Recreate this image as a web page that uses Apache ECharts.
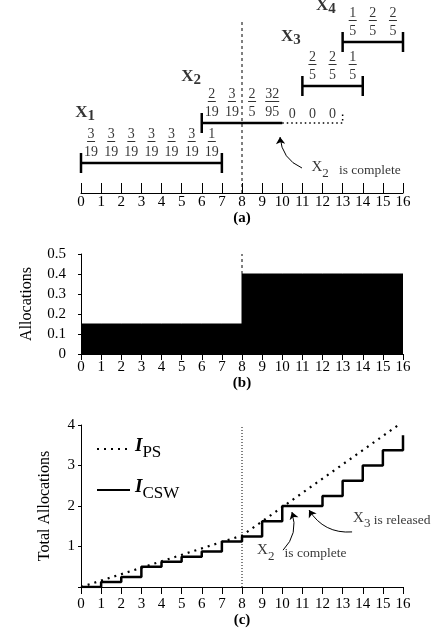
<!DOCTYPE html>
<html>
<head>
<meta charset="utf-8">
<script src="https://cdn.jsdelivr.net/npm/echarts@6/dist/echarts.min.js"></script>
<style>
  html, body { margin: 0; padding: 0; background: #fff; }
  #chart { width: 448px; height: 640px; }
</style>
</head>
<body>
<div id="chart"></div>
<script>
    var FONT = 'Liberation Serif';

    // (a) 任务的执行区间和每个时隙的份额
    var taskIds = ['1', '2', '3', '4'];
    var taskStart = [0, 6, 11, 13];
    var taskEnd = [7, 10, 14, 16];
    var taskShares = [
        ['3/19', '3/19', '3/19', '3/19', '3/19', '3/19', '1/19'],
        ['2/19', '3/19', '2/5', '32/95', '0', '0', '0'],
        ['2/5', '2/5', '1/5'],
        ['1/5', '2/5', '2/5']
    ];

    // (b) 每个时隙的分配
    var slotAlloc = [0.15, 0.15, 0.15, 0.15, 0.15, 0.15, 0.15, 0.15,
                     0.4, 0.4, 0.4, 0.4, 0.4, 0.4, 0.4, 0.4];

    // (c) 累计分配
    var cswTotal = [0, 0.125, 0.25, 0.5, 0.625, 0.75, 0.875, 1.125, 1.25,
                    1.625, 2, 2, 2.25, 2.625, 3, 3.375, 3.75];
    var psTime = [0, 8, 16];
    var psTotal = [0, 1.27, 4.08];
    var markTime = 8;

    // 版面常量 (a 图纵轴单位即像素)
    var ROW = [30, 70, 107, 151];
    var NAME_POS = [[0.2, 79], [5.47, 115], [10.43, 155], [12.17, 186]];

    function xAxisOf(idx, name, gap, tickInside, tickLen, labelMargin) {
        return {
            type: 'value', gridIndex: idx, min: 0, max: 16, interval: 1,
            name: name, nameLocation: 'middle', nameGap: gap,
            nameTextStyle: {fontFamily: FONT, fontSize: 15, fontWeight: 'bold', color: '#000'},
            axisLine: {lineStyle: {color: '#000', width: 1}},
            axisTick: {inside: tickInside, length: tickLen, lineStyle: {color: '#000'}},
            axisLabel: {fontFamily: FONT, fontSize: 15, color: '#000', margin: labelMargin},
            splitLine: {show: false}
        };
    }

    function fracLabel(s) {
        if (s.indexOf('/') < 0) return '{z|' + s + '}';
        var p = s.split('/');
        return '{n|' + p[0] + '}\n{' + (p[0].length > 1 ? 'w' : 'b') + '| }\n{n|' + p[1] + '}';
    }

    var series = [];

    // ---------- (a) ----------
    series.push({
        type: 'line', xAxisIndex: 0, yAxisIndex: 0, silent: true, symbol: 'none',
        lineStyle: {color: '#000', width: 1, type: [3, 3]},
        data: [[markTime, 0], [markTime, 171]]
    });

    for (var i = 0; i < taskIds.length; i++) {
        var extEnd = taskStart[i] + taskShares[i].length;
        var hasExt = extEnd > taskEnd[i];
        series.push({
            type: 'line', xAxisIndex: 0, yAxisIndex: 0, silent: true,
            symbol: 'rect', symbolSize: [2.5, 20], showSymbol: true,
            itemStyle: {color: '#000'},
            lineStyle: {color: '#000', width: 2.5},
            data: [
                {value: [taskStart[i], ROW[i]]},
                {value: [taskEnd[i], ROW[i]], symbol: hasExt ? 'none' : 'rect'}
            ]
        });
        if (hasExt) {
            series.push({
                type: 'line', xAxisIndex: 0, yAxisIndex: 0, silent: true, symbol: 'none',
                lineStyle: {color: '#000', width: 1.5, type: [1.5, 3]},
                data: [[taskEnd[i], ROW[i]], [extEnd, ROW[i]], [extEnd, ROW[i] + 11]]
            });
        }
        var fr = [];
        for (var k = 0; k < taskShares[i].length; k++) {
            var sh = taskShares[i][k];
            fr.push({
                value: [taskStart[i] + k + 0.5, ROW[i], sh],
                label: {distance: sh.indexOf('/') < 0 ? 2 : 4}
            });
        }
        series.push({
            type: 'scatter', xAxisIndex: 0, yAxisIndex: 0, silent: true,
            symbolSize: 0, itemStyle: {color: 'transparent'},
            label: {
                show: true, position: 'top', color: '#000',
                formatter: function (p) { return fracLabel(p.value[2]); },
                rich: {
                    n: {fontFamily: FONT, fontSize: 14, lineHeight: 14, align: 'center', color: '#000'},
                    z: {fontFamily: FONT, fontSize: 14, lineHeight: 13, align: 'center', color: '#000'},
                    b: {width: 8, height: 1, lineHeight: 4, verticalAlign: 'top', backgroundColor: '#000', align: 'center'},
                    w: {width: 14, height: 1, lineHeight: 4, verticalAlign: 'top', backgroundColor: '#000', align: 'center'}
                }
            },
            data: fr
        });
    }

    series.push({
        type: 'scatter', xAxisIndex: 0, yAxisIndex: 0, silent: true,
        symbolSize: 0, itemStyle: {color: 'transparent'},
        label: {
            show: true, position: 'inside', color: '#000',
            formatter: function (p) { return '{x|X}{s|' + taskIds[p.dataIndex] + '}'; },
            rich: {
                x: {fontFamily: FONT, fontSize: 17, fontWeight: 'bold', lineHeight: 20, verticalAlign: 'top', color: '#000'},
                s: {fontFamily: FONT, fontSize: 15, fontWeight: 'bold', lineHeight: 20, verticalAlign: 'bottom', color: '#000'}
            }
        },
        data: NAME_POS
    });

    var noteRich = {
        x: {fontFamily: FONT, fontSize: 15, lineHeight: 20, verticalAlign: 'top', color: '#000'},
        s: {fontFamily: FONT, fontSize: 13, lineHeight: 20, verticalAlign: 'bottom', color: '#000'},
        t: {fontFamily: FONT, fontSize: 13.5, lineHeight: 20, color: '#000'}
    };

    series.push({
        type: 'scatter', xAxisIndex: 0, yAxisIndex: 0, silent: true,
        symbolSize: 0, itemStyle: {color: 'transparent'},
        label: {show: true, position: 'right', distance: 0, formatter: '{x|X}{s|2}{t|   is complete}', rich: noteRich},
        data: [[11.45, 23]]
    });
    series.push({
        type: 'lines', coordinateSystem: 'cartesian2d', xAxisIndex: 0, yAxisIndex: 0, silent: true,
        symbol: ['none', 'arrow'], symbolSize: 7,
        lineStyle: {color: '#000', width: 1, curveness: 0.3, opacity: 1},
        data: [{coords: [[10.98, 25], [9.89, 56]]}]
    });

    // ---------- (b) ----------
    var bData = [];
    for (var t = 0; t < slotAlloc.length; t++) bData.push([t, slotAlloc[t]]);
    bData.push([slotAlloc.length, slotAlloc[slotAlloc.length - 1]]);
    series.push({
        type: 'line', xAxisIndex: 1, yAxisIndex: 1, silent: true, step: 'end', symbol: 'none',
        lineStyle: {color: '#000', width: 1},
        areaStyle: {color: '#000', opacity: 1},
        data: bData
    });
    series.push({
        type: 'line', xAxisIndex: 1, yAxisIndex: 1, silent: true, symbol: 'none',
        lineStyle: {color: '#000', width: 1, type: [3, 3]},
        data: [[markTime, slotAlloc[markTime]], [markTime, 0.5]]
    });

    // ---------- (c) ----------
    series.push({
        type: 'line', xAxisIndex: 2, yAxisIndex: 2, silent: true, symbol: 'none',
        lineStyle: {color: '#000', width: 1, type: [1, 2]},
        data: [[markTime, 0], [markTime, 4]]
    });
    series.push({
        name: 'PS', type: 'line', xAxisIndex: 2, yAxisIndex: 2, silent: true, symbol: 'none',
        lineStyle: {color: '#000', width: 2.2, type: [2, 5]},
        itemStyle: {color: '#000'},
        data: psTime.map(function (x, j) { return [x, psTotal[j]]; })
    });
    series.push({
        name: 'CSW', type: 'line', xAxisIndex: 2, yAxisIndex: 2, silent: true, symbol: 'none', step: 'end',
        lineStyle: {color: '#000', width: 2.5},
        itemStyle: {color: '#000'},
        data: cswTotal.map(function (v, j) { return [j, v]; })
    });
    series.push({
        type: 'scatter', xAxisIndex: 2, yAxisIndex: 2, silent: true,
        symbolSize: 0, itemStyle: {color: 'transparent'},
        label: {
            show: true, position: 'right', distance: 0, rich: noteRich,
            formatter: function (p) { return p.dataIndex === 0 ? '{x|X}{s|2}{t|   is complete}' : '{x|X}{s|3}{t| is released}'; }
        },
        data: [[8.75, 0.84], [13.52, 1.65]]
    });
    series.push({
        type: 'lines', coordinateSystem: 'cartesian2d', xAxisIndex: 2, yAxisIndex: 2, silent: true,
        symbol: ['none', 'arrow'], symbolSize: 7,
        lineStyle: {color: '#000', width: 1, opacity: 1},
        data: [
            {coords: [[10.04, 0.91], [10.48, 1.85]], lineStyle: {curveness: -0.3}},
            {coords: [[13.47, 1.36], [11.33, 1.9]], lineStyle: {curveness: 0.3}}
        ]
    });

    var option = {
        animation: false,
        backgroundColor: '#fff',
        textStyle: {fontFamily: FONT},
        grid: [
            {left: 81, width: 322, top: 3, height: 190},
            {left: 81, width: 322, top: 254, height: 100},
            {left: 81, width: 322, top: 425, height: 162}
        ],
        xAxis: [
            xAxisOf(0, '(a)', 16, true, 10, 2),
            xAxisOf(1, '(b)', 20, false, 6, 6),
            xAxisOf(2, '(c)', 26, false, 7, 10)
        ],
        yAxis: [
            {type: 'value', gridIndex: 0, min: 0, max: 190, show: false},
            {
                type: 'value', gridIndex: 1, min: 0, max: 0.5, interval: 0.1,
                name: 'Allocations', nameLocation: 'middle', nameGap: 46,
                nameTextStyle: {fontFamily: FONT, fontSize: 16, color: '#000'},
                axisLine: {show: true, lineStyle: {color: '#000'}},
                axisTick: {show: true, length: 3, lineStyle: {color: '#000'}},
                axisLabel: {fontFamily: FONT, fontSize: 15, color: '#000', margin: 15},
                splitLine: {show: false}
            },
            {
                type: 'value', gridIndex: 2, min: 0, max: 4, interval: 1,
                name: 'Total Allocations', nameLocation: 'middle', nameGap: 28,
                nameTextStyle: {fontFamily: FONT, fontSize: 16, color: '#000'},
                axisLine: {show: true, lineStyle: {color: '#000'}},
                axisTick: {show: true, length: 3, lineStyle: {color: '#000'}},
                axisLabel: {
                    fontFamily: FONT, fontSize: 15, color: '#000', margin: 6,
                    formatter: function (v) { return v === 0 ? '' : v; }
                },
                splitLine: {show: false}
            }
        ],
        legend: {
            data: ['PS', 'CSW'], orient: 'vertical', left: 91, top: 432,
            itemWidth: 33, itemHeight: 14, itemGap: 17, selectedMode: false,
            itemStyle: {opacity: 0},
            formatter: function (n) { return '{i|I}{s|' + n + '}'; },
            textStyle: {
                rich: {
                    i: {fontFamily: FONT, fontSize: 19, fontStyle: 'italic', fontWeight: 'bold', lineHeight: 24, verticalAlign: 'top', color: '#000'},
                    s: {fontFamily: FONT, fontSize: 17, lineHeight: 24, verticalAlign: 'bottom', color: '#000'}
                }
            }
        },
        series: series
    };

    var myChart = echarts.init(document.getElementById('chart'));
    myChart.setOption(option);
</script>
</body>
</html>
